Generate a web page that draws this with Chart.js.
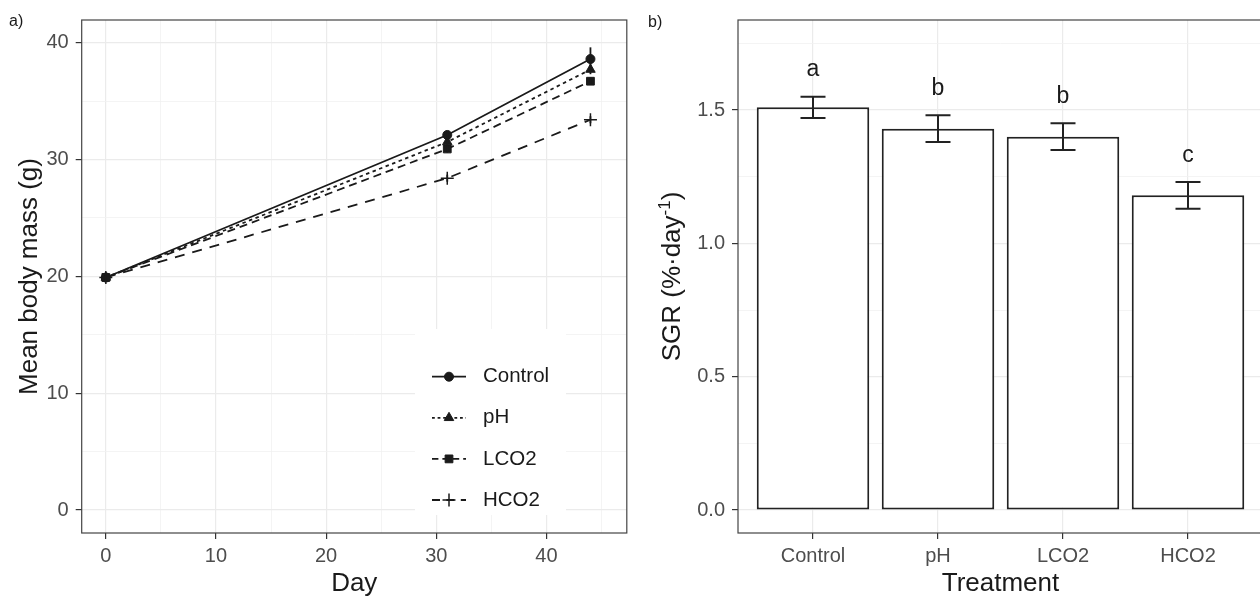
<!DOCTYPE html>
<html>
<head>
<meta charset="utf-8">
<script src="https://cdn.jsdelivr.net/npm/chart.js@4.4.1/dist/chart.umd.min.js"></script>
<style>
  html, body { margin: 0; padding: 0; background: #fff; overflow: hidden; }
  #wrap { position: relative; width: 1260px; height: 596px; overflow: hidden; }
  #massChart { position: absolute; left: 0; top: 0; }
  #sgrChart { position: absolute; left: 640px; top: 0; }
</style>
</head>
<body>
<div id="wrap">
  <canvas id="massChart" width="640" height="596"></canvas>
  <canvas id="sgrChart" width="630" height="596"></canvas>
</div>
<script>
// a) mean body mass (g) by day
const days = [0, 31, 44];
const groups = ['Control', 'pH', 'LCO2', 'HCO2'];
const massControl = [19.9, 32.1, 38.6];
const massPH = [19.9, 31.5, 37.7];
const massLCO2 = [19.9, 30.9, 36.7];
const massHCO2 = [19.9, 28.4, 33.4];
const seControl = [0.2, 0.3, 1.0];
const sePH = [0.2, 0.3, 0.4];
const seLCO2 = [0.2, 0.3, 0.3];
const seHCO2 = [0.2, 0.3, 0.3];
const massTicks = [0, 10, 20, 30, 40];
const massMinor = [5, 15, 25, 35];
const dayTicks = [0, 10, 20, 30, 40];
const dayMinor = [5, 15, 25, 35, 45];

// b) SGR by treatment
const treatments = ['Control', 'pH', 'LCO2', 'HCO2'];
const sgrMean = [1.51, 1.43, 1.40, 1.18];
const sgrSE = [0.04, 0.05, 0.05, 0.05];
const sgrLetters = ['a', 'b', 'b', 'c'];
const sgrTicks = [0, 0.5, 1.0, 1.5];
const sgrMinor = [0.25, 0.75, 1.25, 1.75];

const FONT = "'Liberation Sans', Arial, Helvetica, sans-serif";
const INK = '#1a1a1a';

const isIn = (list, v) => list.some(m => Math.abs(m - v) < 1e-9);
const tickVal = c => (c.tick ? c.tick.value : NaN);

function linearAxis(min, max, major, minor, fmt, pad, fit) {
  return {
    type: 'linear', min, max,
    offset: false,
    afterBuildTicks: s => {
      s.ticks = major.concat(minor).sort((a, b) => a - b).map(v => ({ value: v }));
    },
    afterFit: fit,
    border: { display: false },
    grid: {
      offset: false,
      color: c => isIn(major, tickVal(c)) ? '#ebebeb' : (isIn(minor, tickVal(c)) ? '#f1f1f1' : 'rgba(0,0,0,0)'),
      lineWidth: c => isIn(major, tickVal(c)) ? 1.2 : 0.8,
      tickColor: c => isIn(major, tickVal(c)) ? '#333' : 'rgba(0,0,0,0)',
      tickLength: 6,
      tickWidth: 1.2
    },
    ticks: {
      autoSkip: false, maxRotation: 0, padding: pad,
      color: '#4d4d4d', font: { family: FONT, size: 20 },
      callback: v => isIn(major, v) ? fmt(v) : ''
    }
  };
}

function rotatedTitle(ctx, x, y, parts) {
  // parts: [{t, size, rise}]
  ctx.save();
  ctx.translate(x, y);
  ctx.rotate(-Math.PI / 2);
  ctx.fillStyle = INK;
  ctx.textBaseline = 'alphabetic';
  ctx.textAlign = 'left';
  let total = 0;
  parts.forEach(p => { ctx.font = p.size + 'px ' + FONT; p.w = ctx.measureText(p.t).width; total += p.w; });
  let cx = -total / 2;
  parts.forEach(p => {
    ctx.font = p.size + 'px ' + FONT;
    ctx.fillText(p.t, cx, -(p.rise || 0));
    cx += p.w;
  });
  ctx.restore();
}

function panelFrame(chart, xTitle, tag) {
  const { ctx, chartArea: a } = chart;
  ctx.save();
  ctx.strokeStyle = '#444';
  ctx.lineWidth = 1.2;
  ctx.strokeRect(a.left, a.top, a.right - a.left, a.bottom - a.top);
  ctx.fillStyle = INK;
  ctx.font = '26px ' + FONT;
  ctx.textAlign = 'center';
  ctx.textBaseline = 'alphabetic';
  ctx.fillText(xTitle, (a.left + a.right) / 2, 590.5);
  ctx.font = '16px ' + FONT;
  ctx.textAlign = 'left';
  ctx.textBaseline = 'middle';
  ctx.fillText(tag.t, tag.x, tag.y);
  ctx.restore();
}

// ---------- panel a ----------
const massSeries = [massControl, massPH, massLCO2, massHCO2];
const massSE = [seControl, sePH, seLCO2, seHCO2];
const looks = [
  { dash: [], point: 'circle', r: 4.5 },
  { dash: [3.5, 3.5], point: 'triangle', r: 5.5 },
  { dash: [8, 5], point: 'rect', r: 5.5 },
  { dash: [10, 8], point: 'cross', r: 6.5 }
];

new Chart(document.getElementById('massChart'), {
  type: 'line',
  data: {
    datasets: groups.map((g, i) => ({
      label: g,
      data: days.map((d, j) => ({ x: d, y: massSeries[i][j] })),
      borderColor: INK,
      borderWidth: 1.8,
      borderDash: looks[i].dash,
      tension: 0,
      fill: false,
      pointStyle: looks[i].point,
      pointRadius: looks[i].r,
      pointBackgroundColor: INK,
      pointBorderColor: INK,
      pointBorderWidth: looks[i].point === 'cross' ? 1.5 : 1
    }))
  },
  options: {
    responsive: false,
    animation: false,
    devicePixelRatio: 1,
    layout: { padding: { top: 20, right: 13.2, left: 0, bottom: 0 } },
    plugins: { legend: { display: false }, tooltip: { enabled: false } },
    scales: {
      x: linearAxis(-2.19, 47.3, dayTicks, dayMinor, v => String(v), 5, s => { s.height = 63; }),
      y: linearAxis(-1.97, 41.94, massTicks, massMinor, v => String(v), 7, s => { s.width = 81.7; })
    }
  },
  plugins: [{
    id: 'massDecor',
    afterDraw(chart) {
      const { ctx } = chart;
      const xs = chart.scales.x, ys = chart.scales.y;
      ctx.save();
      // error bars
      ctx.strokeStyle = INK;
      ctx.lineWidth = 1.8;
      massSeries.forEach((s, i) => {
        days.forEach((d, j) => {
          const px = xs.getPixelForValue(d);
          ctx.beginPath();
          ctx.moveTo(px, ys.getPixelForValue(s[j] - massSE[i][j]));
          ctx.lineTo(px, ys.getPixelForValue(s[j] + massSE[i][j]));
          ctx.stroke();
        });
      });
      // legend
      const box = { x: 415, y: 329, w: 151, h: 186, row0: 376.7, step: 41.1 };
      ctx.fillStyle = '#fff';
      ctx.fillRect(box.x, box.y, box.w, box.h);
      groups.forEach((g, i) => {
        const yy = box.row0 + i * box.step;
        ctx.strokeStyle = INK;
        ctx.fillStyle = INK;
        ctx.lineWidth = 1.8;
        ctx.setLineDash(looks[i].dash.map(v => v * 0.8));
        ctx.beginPath();
        ctx.moveTo(432, yy);
        ctx.lineTo(466, yy);
        ctx.stroke();
        ctx.setLineDash([]);
        ctx.lineWidth = looks[i].point === 'cross' ? 1.5 : 1;
        Chart.helpers.drawPoint(ctx, { pointStyle: looks[i].point, radius: looks[i].r, rotation: 0, borderWidth: ctx.lineWidth }, 449, yy);
        ctx.fillStyle = INK;
        ctx.font = '20.5px ' + FONT;
        ctx.textAlign = 'left';
        ctx.textBaseline = 'middle';
        ctx.fillText(g, 483, yy);
      });
      ctx.restore();
      panelFrame(chart, 'Day', { t: 'a)', x: 9, y: 22 });
      rotatedTitle(ctx, 37, 276.5, [{ t: 'Mean body mass (g)', size: 26 }]);
    }
  }]
});

// ---------- panel b ----------
new Chart(document.getElementById('sgrChart'), {
  type: 'bar',
  data: {
    datasets: [{
      label: 'SGR',
      data: treatments.map((t, i) => ({ x: i + 1, y: sgrMean[i] })),
      backgroundColor: '#ffffff',
      borderColor: '#222',
      borderWidth: 2,
      borderSkipped: false,
      barPercentage: 0.9,
      categoryPercentage: 1.0
    }]
  },
  options: {
    responsive: false,
    animation: false,
    devicePixelRatio: 1,
    layout: { padding: { top: 20, right: 7, left: 0, bottom: 0 } },
    plugins: { legend: { display: false }, tooltip: { enabled: false } },
    scales: {
      x: linearAxis(0.4, 4.6, [1, 2, 3, 4], [], v => treatments[Math.round(v) - 1], 5, s => { s.height = 63; }),
      y: linearAxis(-0.086, 1.8375, sgrTicks, sgrMinor, v => v.toFixed(1), 7, s => { s.width = 98; })
    }
  },
  plugins: [{
    id: 'sgrDecor',
    afterDraw(chart) {
      const { ctx } = chart;
      const xs = chart.scales.x, ys = chart.scales.y;
      ctx.save();
      ctx.strokeStyle = '#222';
      ctx.lineWidth = 2;
      treatments.forEach((t, i) => {
        const cx = xs.getPixelForValue(i + 1);
        const half = xs.getPixelForValue(i + 1.1) - cx;
        const lo = ys.getPixelForValue(sgrMean[i] - sgrSE[i]);
        const hi = ys.getPixelForValue(sgrMean[i] + sgrSE[i]);
        ctx.beginPath();
        ctx.moveTo(cx, lo); ctx.lineTo(cx, hi);
        ctx.moveTo(cx - half, lo); ctx.lineTo(cx + half, lo);
        ctx.moveTo(cx - half, hi); ctx.lineTo(cx + half, hi);
        ctx.stroke();
        ctx.fillStyle = INK;
        ctx.font = '23px ' + FONT;
        ctx.textAlign = 'center';
        ctx.textBaseline = 'middle';
        ctx.fillText(sgrLetters[i], cx, ys.getPixelForValue(sgrMean[i] + sgrSE[i] + 0.1));
      });
      ctx.restore();
      panelFrame(chart, 'Treatment', { t: 'b)', x: 8, y: 23 });
      rotatedTitle(ctx, 40, 276.5, [
        { t: 'SGR (%\u00B7day', size: 26 },
        { t: '-1', size: 17, rise: 10 },
        { t: ')', size: 26 }
      ]);
    }
  }]
});
</script>
</body>
</html>
